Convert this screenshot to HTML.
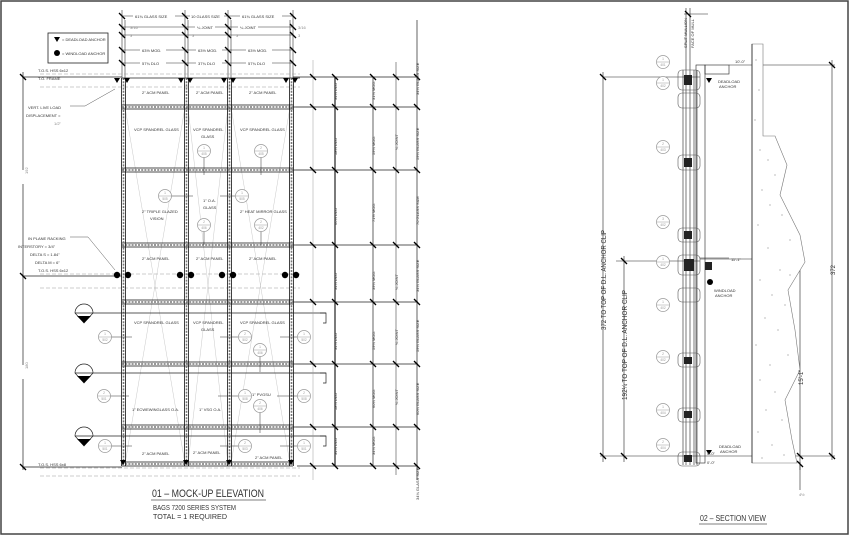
<!DOCTYPE html>
<html><head><meta charset="utf-8"><style>
html,body{margin:0;padding:0;background:#fff}
svg{display:block}
text{font-family:"Liberation Sans",sans-serif;fill:#333}
.t{font-size:4px}
.g{fill:#888}
.b{font-size:3.2px;fill:#999;text-anchor:middle}
</style></head><body>
<svg width="850" height="536" viewBox="0 0 850 536" xmlns="http://www.w3.org/2000/svg">
<defs>
<g id="tk"><line x1="-3" y1="-3" x2="3" y2="3" stroke="#000" stroke-width="1.3"/></g>
<g id="tri"><polygon points="-3,-2 3,-2 0,3" fill="#000"/></g>
<g id="bub"><circle r="6.5" fill="#fff" stroke="#999" stroke-width="0.7"/><line x1="-6.5" y1="0" x2="6.5" y2="0" stroke="#999" stroke-width="0.5"/></g>
<g id="mv"><line x1="-2" y1="0" x2="-2" y2="388" stroke="#111" stroke-width="0.8"/><line x1="2" y1="0" x2="2" y2="388" stroke="#111" stroke-width="0.8"/><line x1="0" y1="0" x2="0" y2="388" stroke="#777" stroke-width="1.6" stroke-dasharray="2,1.2"/></g>
<g id="mh"><line x1="0" y1="-2" x2="171" y2="-2" stroke="#111" stroke-width="0.8"/><line x1="0" y1="2" x2="171" y2="2" stroke="#111" stroke-width="0.8"/><line x1="0" y1="0" x2="171" y2="0" stroke="#777" stroke-width="1.6" stroke-dasharray="2,1.2"/></g>
</defs>
<rect x="1" y="1" width="847" height="533" fill="none" stroke="#444" stroke-width="1.5"/>

<!-- legend -->
<rect x="48" y="33" width="60" height="30" fill="#fff" stroke="#222" stroke-width="0.8"/>
<use href="#tri" x="57" y="39"/><text x="62" y="41" class="t">= DEADLOAD ANCHOR</text>
<circle cx="57" cy="53" r="3" fill="#000"/><text x="62" y="55" class="t">= WINDLOAD ANCHOR</text>

<!-- top dims -->
<g stroke="#333" stroke-width="0.6">
<line x1="122" y1="16" x2="293" y2="16"/>
<line x1="122" y1="27" x2="293" y2="27"/>
<line x1="122" y1="35" x2="293" y2="35"/>
<line x1="122" y1="50" x2="293" y2="50"/>
<line x1="122" y1="63" x2="293" y2="63"/>
<line x1="122" y1="10" x2="122" y2="78"/><line x1="125" y1="20" x2="125" y2="78"/>
<line x1="185" y1="10" x2="185" y2="78"/><line x1="188" y1="20" x2="188" y2="78"/>
<line x1="228" y1="10" x2="228" y2="78"/><line x1="231" y1="20" x2="231" y2="78"/>
<line x1="290" y1="20" x2="290" y2="78"/><line x1="293" y1="10" x2="293" y2="78"/>
</g>
<g fill="#fff"><rect x="133" y="13" width="42" height="6"/><rect x="190" y="13" width="34" height="6"/><rect x="240" y="13" width="42" height="6"/>
<rect x="195" y="24" width="20" height="6"/><rect x="238" y="24" width="20" height="6"/>
<rect x="140" y="47" width="26" height="6"/><rect x="196" y="47" width="26" height="6"/><rect x="246" y="47" width="26" height="6"/>
<rect x="140" y="60" width="26" height="6"/><rect x="196" y="60" width="26" height="6"/><rect x="246" y="60" width="26" height="6"/></g>
<text x="135" y="18" class="t">61¾ GLASS SIZE</text><text x="191" y="18" class="t">10 GLASS SIZE</text><text x="242" y="18" class="t">61¾ GLASS SIZE</text>
<text x="130" y="29" class="t g">3/16</text><text x="197" y="29" class="t">¼ JOINT</text><text x="240" y="29" class="t">¼ JOINT</text><text x="298" y="29" class="t g">3/16</text>
<text x="130" y="37" class="t g">3</text><text x="192" y="37" class="t g">3</text><text x="236" y="37" class="t g">3</text><text x="298" y="37" class="t g">3</text>
<text x="142" y="52" class="t">63½ MOD.</text><text x="198" y="52" class="t">63½ MOD.</text><text x="248" y="52" class="t">63½ MOD.</text>
<text x="142" y="65" class="t">57¾ DLO</text><text x="198" y="65" class="t">37¾ DLO</text><text x="248" y="65" class="t">57¾ DLO</text>
<g><use href="#tk" x="122" y="16"/><use href="#tk" x="185" y="16"/><use href="#tk" x="228" y="16"/><use href="#tk" x="293" y="16"/>
<use href="#tk" x="122" y="27"/><use href="#tk" x="185" y="27"/><use href="#tk" x="228" y="27"/><use href="#tk" x="293" y="27"/>
<use href="#tk" x="122" y="35"/><use href="#tk" x="185" y="35"/><use href="#tk" x="228" y="35"/><use href="#tk" x="293" y="35"/>
<use href="#tk" x="122" y="50"/><use href="#tk" x="185" y="50"/><use href="#tk" x="228" y="50"/><use href="#tk" x="293" y="50"/>
<use href="#tk" x="122" y="63"/><use href="#tk" x="185" y="63"/><use href="#tk" x="228" y="63"/><use href="#tk" x="293" y="63"/></g>

<!-- TOS lines -->
<g stroke="#999" stroke-width="0.6" stroke-dasharray="4,2">
<line x1="40" y1="74" x2="300" y2="74"/><line x1="40" y1="87" x2="300" y2="87"/>
<line x1="40" y1="274" x2="300" y2="274"/><line x1="40" y1="288" x2="300" y2="288"/>
<line x1="40" y1="468" x2="300" y2="468"/><line x1="40" y1="476" x2="300" y2="476"/>
</g>
<line x1="22" y1="77" x2="122" y2="77" stroke="#222" stroke-width="0.7"/>
<line x1="22" y1="276" x2="122" y2="276" stroke="#222" stroke-width="0.7"/>
<line x1="22" y1="467" x2="122" y2="467" stroke="#222" stroke-width="0.7"/>
<line x1="23" y1="72" x2="23" y2="470" stroke="#222" stroke-width="0.7"/>
<use href="#tk" x="23" y="77"/><use href="#tk" x="23" y="276"/><use href="#tk" x="23" y="467"/>
<rect x="18" y="170" width="10" height="14" fill="#fff"/><text x="26" y="182" class="t g" transform="rotate(-90 23 177)">192</text>
<rect x="18" y="365" width="10" height="14" fill="#fff"/><text x="26" y="377" class="t g" transform="rotate(-90 23 372)">180</text>
<text x="38" y="72" class="t">T.O.S. HSS 6x12</text><text x="38" y="80" class="t">T.O. FRAME</text>
<text x="38" y="272" class="t">T.O.S. HSS 6x12</text><text x="38" y="466" class="t">T.O.S. HSS 6x8</text>
<text x="28" y="109" class="t">VERT. LIVE LOAD</text><text x="26" y="117" class="t">DISPLACEMENT =</text><text x="54" y="125" class="t g">1/2"</text>
<polyline points="70,106 85,106 115,89" fill="none" stroke="#555" stroke-width="0.5"/>
<text x="28" y="240" class="t">IN PLANE RACKING</text><text x="18" y="248" class="t">INTERSTORY = 3/4"</text><text x="30" y="256" class="t">DELTA S = 1.84"</text><text x="35" y="264" class="t">DELTA M = 6"</text>
<polyline points="70,237 88,237 115,270" fill="none" stroke="#555" stroke-width="0.5"/>

<!-- frame -->
<g stroke="#bbb" stroke-width="0.4">
<line x1="125" y1="107" x2="185" y2="464"/><line x1="185" y1="107" x2="125" y2="464"/>
<line x1="231" y1="107" x2="290" y2="464"/><line x1="290" y1="107" x2="231" y2="464"/>
<line x1="188" y1="107" x2="228" y2="464"/><line x1="228" y1="107" x2="188" y2="464"/>
</g>
<use href="#mh" x="122" y="107"/><use href="#mh" x="122" y="170"/><use href="#mh" x="122" y="245"/><use href="#mh" x="122" y="302"/><use href="#mh" x="122" y="364"/><use href="#mh" x="122" y="427"/><use href="#mh" x="122" y="464"/>
<use href="#mv" x="123.5" y="78"/><use href="#mv" x="186.5" y="78"/><use href="#mv" x="229.5" y="78"/><use href="#mv" x="291.5" y="78"/>
<line x1="122" y1="78" x2="300" y2="78" stroke="#222" stroke-width="0.8"/>
<g><use href="#tri" x="117" y="80"/><use href="#tri" x="127" y="80"/><use href="#tri" x="181" y="80"/><use href="#tri" x="190" y="80"/><use href="#tri" x="224" y="80"/><use href="#tri" x="233" y="80"/><use href="#tri" x="286" y="80"/><use href="#tri" x="295" y="80"/>
<use href="#tri" x="123" y="462"/><use href="#tri" x="186" y="462"/><use href="#tri" x="229" y="462"/><use href="#tri" x="291" y="462"/></g>
<g fill="#000"><circle cx="117" cy="275" r="3.2"/><circle cx="128" cy="275" r="3.2"/><circle cx="180" cy="275" r="3.2"/><circle cx="191" cy="275" r="3.2"/><circle cx="222" cy="275" r="3.2"/><circle cx="233" cy="275" r="3.2"/><circle cx="285" cy="275" r="3.2"/><circle cx="296" cy="275" r="3.2"/></g>

<g>
<text x="142" y="94" class="t">2" ACM PANEL</text><text x="196" y="94" class="t">2" ACM PANEL</text><text x="249" y="94" class="t">2" ACM PANEL</text>
<text x="134" y="131" class="t">VCP SPANDREL GLASS</text><text x="193" y="131" class="t">VCP SPANDREL</text><text x="201" y="138" class="t">GLASS</text><text x="240" y="131" class="t">VCP SPANDREL GLASS</text>
<text x="203" y="202" class="t">1" O.A.</text><text x="203" y="209" class="t">GLASS</text>
<text x="142" y="213" class="t">2" TRIPLE GLAZED</text><text x="150" y="220" class="t">VISION</text><text x="240" y="213" class="t">2" HEAT MIRROR GLASS</text>
<text x="142" y="260" class="t">2" ACM PANEL</text><text x="196" y="260" class="t">2" ACM PANEL</text><text x="249" y="260" class="t">2" ACM PANEL</text>
<text x="134" y="324" class="t">VCP SPANDREL GLASS</text><text x="193" y="324" class="t">VCP SPANDREL</text><text x="201" y="331" class="t">GLASS</text><text x="240" y="324" class="t">VCP SPANDREL GLASS</text>
<text x="252" y="396" class="t">1" PVGSU</text>
<text x="132" y="411" class="t">1" ECWEWINGLASS O.A.</text><text x="199" y="411" class="t">1" VSG O.A.</text>
<text x="142" y="455" class="t">2" ACM PANEL</text><text x="193" y="454" class="t">2" ACM PANEL</text><text x="255" y="459" class="t">2" ACM PANEL</text>
</g>

<!-- bubble leaders -->
<g stroke="#333" stroke-width="0.5"><line x1="171" y1="196" x2="193" y2="196"/><line x1="220" y1="196" x2="235" y2="196"/><line x1="204" y1="157" x2="204" y2="175"/><line x1="261" y1="157" x2="261" y2="175"/><line x1="204" y1="231" x2="204" y2="245"/><line x1="261" y1="231" x2="261" y2="245"/>
<line x1="111" y1="337" x2="132" y2="337"/><line x1="220" y1="337" x2="238" y2="337"/><line x1="280" y1="337" x2="297" y2="337"/><line x1="260" y1="356" x2="260" y2="372"/>
<line x1="110" y1="396" x2="129" y2="396"/><line x1="218" y1="396" x2="238" y2="396"/><line x1="277" y1="396" x2="297" y2="396"/><line x1="260" y1="412" x2="260" y2="433"/>
<line x1="111" y1="446" x2="132" y2="446"/><line x1="220" y1="446" x2="238" y2="446"/><line x1="280" y1="446" x2="297" y2="446"/></g>
<g><use href="#bub" x="204" y="151"/><use href="#bub" x="261" y="151"/><use href="#bub" x="165" y="196"/><use href="#bub" x="242" y="196"/><use href="#bub" x="204" y="225"/><use href="#bub" x="261" y="225"/>
<use href="#bub" x="105" y="337"/><use href="#bub" x="245" y="337"/><use href="#bub" x="304" y="337"/><use href="#bub" x="260" y="350"/>
<use href="#bub" x="104" y="396"/><use href="#bub" x="245" y="396"/><use href="#bub" x="304" y="396"/><use href="#bub" x="260" y="406"/>
<use href="#bub" x="105" y="446"/><use href="#bub" x="245" y="446"/><use href="#bub" x="304" y="446"/></g>
<g class="b">
<text x="204" y="149" class="b">1</text><text x="204" y="155" class="b">405</text>
<text x="261" y="149" class="b">2</text><text x="261" y="155" class="b">405</text>
<text x="165" y="194" class="b">1</text><text x="165" y="200" class="b">505</text>
<text x="242" y="194" class="b">1</text><text x="242" y="200" class="b">505</text>
<text x="204" y="223" class="b">2</text><text x="204" y="229" class="b">406</text>
<text x="261" y="223" class="b">2</text><text x="261" y="229" class="b">402</text>
<text x="105" y="335" class="b">1</text><text x="105" y="341" class="b">502</text>
<text x="245" y="335" class="b">2</text><text x="245" y="341" class="b">502</text>
<text x="304" y="335" class="b">1</text><text x="304" y="341" class="b">502</text>
<text x="260" y="348" class="b">1</text><text x="260" y="354" class="b">406</text>
<text x="104" y="394" class="b">2</text><text x="104" y="400" class="b">501</text>
<text x="245" y="394" class="b">1</text><text x="245" y="400" class="b">508</text>
<text x="304" y="394" class="b">2</text><text x="304" y="400" class="b">508</text>
<text x="260" y="404" class="b">2</text><text x="260" y="410" class="b">406</text>
<text x="105" y="444" class="b">1</text><text x="105" y="450" class="b">501</text>
<text x="245" y="444" class="b">2</text><text x="245" y="450" class="b">503</text>
<text x="304" y="444" class="b">1</text><text x="304" y="450" class="b">501</text>
</g>
<!-- section markers -->
<g stroke="#222" stroke-width="0.7" fill="none">
<path d="M75,313 A9,9 0 0 1 93,313 L84,323 Z" fill="#fff"/><line x1="75" y1="313" x2="326" y2="313"/><polyline points="320,313 326,313 326,323 323,323"/>
<path d="M75,373 A9,9 0 0 1 93,373 L84,383 Z" fill="#fff"/><line x1="75" y1="373" x2="326" y2="373"/><polyline points="320,373 326,373 326,383 323,383"/>
<path d="M75,436 A9,9 0 0 1 93,436 L84,446 Z" fill="#fff"/><line x1="75" y1="436" x2="326" y2="436"/><polyline points="320,436 326,436 326,446 323,446"/>
</g>
<g fill="#000"><path d="M77,316 L91,316 L84,323 Z"/><path d="M77,376 L91,376 L84,383 Z"/><path d="M77,439 L91,439 L84,446 Z"/></g>

<!-- right dims -->
<g stroke="#222" stroke-width="0.7">
<line x1="293" y1="77" x2="418" y2="77"/><line x1="293" y1="107" x2="418" y2="107"/><line x1="293" y1="170" x2="418" y2="170"/><line x1="293" y1="245" x2="418" y2="245"/>
<line x1="293" y1="302" x2="418" y2="302"/><line x1="293" y1="364" x2="418" y2="364"/><line x1="293" y1="427" x2="418" y2="427"/><line x1="297" y1="466" x2="418" y2="466"/>
<line x1="313" y1="60" x2="313" y2="480" stroke="#999" stroke-width="0.5"/>
<line x1="335" y1="77" x2="335" y2="466" stroke-width="1.2"/>
<line x1="373" y1="77" x2="373" y2="466"/>
<line x1="396" y1="62" x2="396" y2="475" stroke-width="0.5"/>
<line x1="417" y1="20" x2="417" y2="480"/>
</g>
<g stroke="#888" stroke-width="1.6"><line x1="296" y1="107" x2="335" y2="107"/><line x1="296" y1="170" x2="335" y2="170"/><line x1="296" y1="245" x2="335" y2="245"/><line x1="296" y1="302" x2="335" y2="302"/><line x1="296" y1="364" x2="335" y2="364"/><line x1="296" y1="427" x2="335" y2="427"/></g>
<g><use href="#tk" x="313" y="77"/><use href="#tk" x="335" y="77"/><use href="#tk" x="373" y="77"/><use href="#tk" x="396" y="77"/><use href="#tk" x="417" y="77"/>
<use href="#tk" x="313" y="107"/><use href="#tk" x="335" y="107"/><use href="#tk" x="373" y="107"/><use href="#tk" x="396" y="107"/><use href="#tk" x="417" y="107"/>
<use href="#tk" x="313" y="170"/><use href="#tk" x="335" y="170"/><use href="#tk" x="373" y="170"/><use href="#tk" x="396" y="170"/><use href="#tk" x="417" y="170"/>
<use href="#tk" x="313" y="245"/><use href="#tk" x="335" y="245"/><use href="#tk" x="373" y="245"/><use href="#tk" x="396" y="245"/><use href="#tk" x="417" y="245"/>
<use href="#tk" x="313" y="302"/><use href="#tk" x="335" y="302"/><use href="#tk" x="373" y="302"/><use href="#tk" x="396" y="302"/><use href="#tk" x="417" y="302"/>
<use href="#tk" x="313" y="364"/><use href="#tk" x="335" y="364"/><use href="#tk" x="373" y="364"/><use href="#tk" x="396" y="364"/><use href="#tk" x="417" y="364"/>
<use href="#tk" x="313" y="427"/><use href="#tk" x="335" y="427"/><use href="#tk" x="373" y="427"/><use href="#tk" x="396" y="427"/><use href="#tk" x="417" y="427"/>
<use href="#tk" x="313" y="466"/><use href="#tk" x="335" y="466"/><use href="#tk" x="373" y="466"/><use href="#tk" x="396" y="466"/><use href="#tk" x="417" y="466"/></g>
<g>
<text transform="translate(337,100) rotate(-90)" class="t">34¼ DLO</text><text transform="translate(375,100) rotate(-90)" class="t">31¾ MOD.</text><text transform="translate(419,95) rotate(-90)" class="t">34¼ GLASS SIZE</text>
<text transform="translate(337,155) rotate(-90)" class="t">58¼ DLO</text><text transform="translate(375,155) rotate(-90)" class="t">59¾ MOD.</text><text transform="translate(398,150) rotate(-90)" class="t">¼ JOINT</text><text transform="translate(419,160) rotate(-90)" class="t">59¼ GLASS SIZE</text>
<text transform="translate(337,225) rotate(-90)" class="t">66¼ DLO</text><text transform="translate(375,222) rotate(-90)" class="t">71½ MOD.</text><text transform="translate(419,225) rotate(-90)" class="t">70 GLASS SIZE</text>
<text transform="translate(337,290) rotate(-90)" class="t">34¼ DLO</text><text transform="translate(375,290) rotate(-90)" class="t">39¼ MOD.</text><text transform="translate(398,290) rotate(-90)" class="t">¼ JOINT</text><text transform="translate(419,292) rotate(-90)" class="t">34¼ GLASS SIZE</text>
<text transform="translate(337,350) rotate(-90)" class="t">34¾ DLO</text><text transform="translate(375,350) rotate(-90)" class="t">59¾ MOD.</text><text transform="translate(398,345) rotate(-90)" class="t">¼ JOINT</text><text transform="translate(419,352) rotate(-90)" class="t">59¼ GLASS SIZE</text>
<text transform="translate(337,410) rotate(-90)" class="t">58¾ DLO</text><text transform="translate(375,408) rotate(-90)" class="t">60¼ MOD.</text><text transform="translate(398,405) rotate(-90)" class="t">¼ JOINT</text><text transform="translate(419,415) rotate(-90)" class="t">60¼ GLASS SIZE</text>
<text transform="translate(337,455) rotate(-90)" class="t">34¾ DLO</text><text transform="translate(375,455) rotate(-90)" class="t">34¾ MOD.</text><text transform="translate(419,500) rotate(-90)" class="t">34¾ GLASS SIZE</text>
</g>

<!-- title 01 -->
<text x="152" y="497" font-size="11" fill="#444" textLength="112" lengthAdjust="spacingAndGlyphs">01 – MOCK-UP ELEVATION</text>
<line x1="151" y1="500" x2="266" y2="500" stroke="#555" stroke-width="0.8"/>
<text x="153" y="510" font-size="7" fill="#999" textLength="83" lengthAdjust="spacingAndGlyphs">BAGS 7200 SERIES SYSTEM</text>
<text x="153" y="519" font-size="7" fill="#444" textLength="74" lengthAdjust="spacingAndGlyphs">TOTAL  =  1 REQUIRED</text>

<!-- SECTION -->
<g stroke="#222" stroke-width="0.6" fill="none">
<line x1="686" y1="8" x2="686" y2="70"/><line x1="690" y1="8" x2="690" y2="70"/><line x1="684" y1="14" x2="708" y2="14"/>
<line x1="683" y1="70" x2="683" y2="465"/><line x1="686" y1="70" x2="686" y2="465"/><line x1="690" y1="70" x2="690" y2="465"/><line x1="694" y1="70" x2="694" y2="465"/><line x1="697" y1="70" x2="697" y2="465"/>
<rect x="696" y="65" width="9" height="398"/>
<rect x="705" y="65" width="24" height="9"/>
<line x1="700" y1="258" x2="729" y2="258"/>
<line x1="603" y1="77" x2="700" y2="77"/><line x1="603" y1="72" x2="603" y2="462"/>
<line x1="624" y1="256" x2="624" y2="462"/><line x1="616" y1="261" x2="700" y2="261"/>
<line x1="600" y1="456" x2="835" y2="456"/>
<line x1="729" y1="65" x2="835" y2="65"/><line x1="832" y1="60" x2="832" y2="460"/>
<line x1="700" y1="259" x2="803" y2="259"/><line x1="800" y1="256" x2="800" y2="470"/>
<line x1="800" y1="462" x2="800" y2="490"/>
</g>
<use href="#tk" x="603" y="77"/><use href="#tk" x="603" y="456"/><use href="#tk" x="624" y="261"/><use href="#tk" x="624" y="456"/><use href="#tk" x="832" y="65"/><use href="#tk" x="832" y="456"/><use href="#tk" x="800" y="259"/><use href="#tk" x="800" y="456"/><use href="#tk" x="800" y="464"/><use href="#tk" x="688" y="14"/>
<polygon points="752,44 763,44 763,136 775,136 787,165 780,195 800,235 805,262 788,290 795,330 800,370 785,400 792,440 797,463 752,463" fill="#fff" stroke="#777" stroke-width="0.6"/>
<line x1="752" y1="44" x2="752" y2="463" stroke="#222" stroke-width="0.8"/>
<g fill="#555">
<circle cx="756" cy="60" r=".5"/><circle cx="759" cy="90" r=".5"/><circle cx="755" cy="120" r=".5"/><circle cx="760" cy="150" r=".5"/><circle cx="768" cy="160" r=".5"/><circle cx="775" cy="175" r=".5"/><circle cx="762" cy="190" r=".5"/><circle cx="770" cy="205" r=".5"/><circle cx="782" cy="215" r=".5"/><circle cx="758" cy="225" r=".5"/><circle cx="790" cy="240" r=".5"/><circle cx="768" cy="248" r=".5"/><circle cx="780" cy="270" r=".5"/><circle cx="760" cy="280" r=".5"/><circle cx="772" cy="295" r=".5"/><circle cx="785" cy="305" r=".5"/><circle cx="765" cy="318" r=".5"/><circle cx="778" cy="330" r=".5"/><circle cx="756" cy="345" r=".5"/><circle cx="788" cy="355" r=".5"/><circle cx="770" cy="365" r=".5"/><circle cx="760" cy="380" r=".5"/><circle cx="775" cy="392" r=".5"/><circle cx="766" cy="410" r=".5"/><circle cx="782" cy="420" r=".5"/><circle cx="758" cy="432" r=".5"/><circle cx="772" cy="445" r=".5"/><circle cx="784" cy="455" r=".5"/><circle cx="762" cy="458" r=".5"/><circle cx="790" cy="275" r=".5"/>
</g>
<g fill="none" stroke="#555" stroke-width="0.6">
<rect x="678" y="70" width="22" height="20" rx="4"/><rect x="678" y="93" width="22" height="15" rx="4"/><rect x="678" y="155" width="22" height="15" rx="4"/><rect x="678" y="228" width="22" height="14" rx="4"/><rect x="678" y="255" width="22" height="20" rx="4"/><rect x="678" y="288" width="22" height="14" rx="4"/><rect x="678" y="353" width="22" height="14" rx="4"/><rect x="678" y="408" width="22" height="14" rx="4"/><rect x="678" y="452" width="22" height="14" rx="4"/>
</g>
<g fill="#222"><rect x="684" y="75" width="8" height="10"/><rect x="684" y="158" width="8" height="9"/><rect x="684" y="231" width="8" height="8"/><rect x="684" y="259" width="10" height="12"/><rect x="684" y="357" width="8" height="7"/><rect x="684" y="411" width="8" height="7"/><rect x="684" y="455" width="8" height="7"/><rect x="705" y="262" width="7" height="8"/></g>
<use href="#tri" x="709" y="80"/><use href="#tri" x="709" y="452"/><circle cx="710" cy="282" r="3" fill="#000"/>
<g><use href="#bub" x="663" y="62"/><use href="#bub" x="663" y="83"/><use href="#bub" x="663" y="147"/><use href="#bub" x="663" y="222"/><use href="#bub" x="663" y="262"/><use href="#bub" x="663" y="305"/><use href="#bub" x="663" y="357"/><use href="#bub" x="663" y="410"/><use href="#bub" x="663" y="445"/></g>
<g>
<text x="663" y="60" class="b">1</text><text x="663" y="66" class="b">401</text>
<text x="663" y="81" class="b">1</text><text x="663" y="87" class="b">402</text>
<text x="663" y="145" class="b">2</text><text x="663" y="151" class="b">403</text>
<text x="663" y="220" class="b">3</text><text x="663" y="226" class="b">402</text>
<text x="663" y="260" class="b">1</text><text x="663" y="266" class="b">402</text>
<text x="663" y="303" class="b">1</text><text x="663" y="309" class="b">402</text>
<text x="663" y="355" class="b">2</text><text x="663" y="361" class="b">402</text>
<text x="663" y="408" class="b">1</text><text x="663" y="414" class="b">404</text>
<text x="663" y="443" class="b">2</text><text x="663" y="449" class="b">404</text>
</g>
<g>
<text x="718" y="83" class="t">DEADLOAD</text><text x="719" y="88" class="t">ANCHOR</text>
<text x="714" y="292" class="t">WINDLOAD</text><text x="715" y="297" class="t">ANCHOR</text>
<text x="719" y="448" class="t">DEADLOAD</text><text x="720" y="453" class="t">ANCHOR</text>
<text x="735" y="63" class="t">10'-0"</text><text x="731" y="261" class="t">11'-1"</text><text x="707" y="455" class="t">0'-0"</text><text x="707" y="464" class="t">0'-0"</text>
<text x="799" y="496" class="t g">4½</text>
<text transform="translate(687,48) rotate(-90)" class="t">SPLIT MULLION</text><text transform="translate(694,48) rotate(-90)" class="t">FACE OF MULL</text>
</g>
<text transform="translate(606,330) rotate(-90)" font-size="7" fill="#555" textLength="100" lengthAdjust="spacingAndGlyphs">372 TO TOP OF D.L. ANCHOR CLIP</text>
<text transform="translate(627,400) rotate(-90)" font-size="7" fill="#555" textLength="110" lengthAdjust="spacingAndGlyphs">192¼ TO TOP OF D.L. ANCHOR CLIP</text>
<text transform="translate(835,275) rotate(-90)" font-size="6" fill="#777">372</text>
<text transform="translate(803,385) rotate(-90)" font-size="6" fill="#777">15'-1"</text>
<text x="700" y="521" font-size="8" fill="#555" textLength="66" lengthAdjust="spacingAndGlyphs">02 –  SECTION VIEW</text>
<line x1="699" y1="524" x2="767" y2="524" stroke="#555" stroke-width="0.7"/>
</svg>
</body></html>
